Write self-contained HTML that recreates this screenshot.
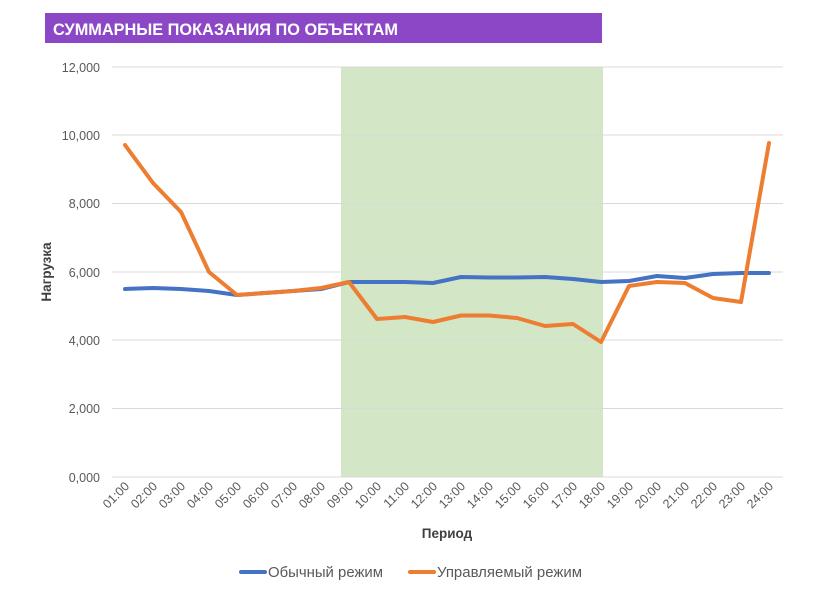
<!DOCTYPE html>
<html><head><meta charset="utf-8"><style>
html,body{margin:0;padding:0;background:#fff;}
svg{display:block;font-family:"Liberation Sans","DejaVu Sans",sans-serif;}
</style></head><body>
<svg width="820" height="593" viewBox="0 0 820 593" xmlns="http://www.w3.org/2000/svg">
<rect x="45" y="13" width="557" height="30" fill="#8B47C6"/>
<text x="53" y="35" font-size="16.5" font-weight="bold" fill="#fff" textLength="345" lengthAdjust="spacingAndGlyphs">СУММАРНЫЕ ПОКАЗАНИЯ ПО ОБЪЕКТАМ</text>
<rect x="341" y="67" width="262" height="410" fill="#D3E6C5"/>
<g stroke="#D9D9D9" stroke-width="1">
<line x1="112" y1="67" x2="783" y2="67"/>
<line x1="112" y1="135" x2="783" y2="135"/>
<line x1="112" y1="203.5" x2="783" y2="203.5"/>
<line x1="112" y1="272" x2="783" y2="272"/>
<line x1="112" y1="340" x2="783" y2="340"/>
<line x1="112" y1="408.5" x2="783" y2="408.5"/>
<line x1="112" y1="477" x2="783" y2="477"/>
</g>
<g font-size="12.5" fill="#595959" text-anchor="end">
<text x="100" y="72">12,000</text>
<text x="100" y="140">10,000</text>
<text x="100" y="208">8,000</text>
<text x="100" y="277">6,000</text>
<text x="100" y="345">4,000</text>
<text x="100" y="413">2,000</text>
<text x="100" y="482">0,000</text>
</g>
<text transform="translate(51,272) rotate(-90)" font-size="13.5" font-weight="bold" fill="#404040" text-anchor="middle">Нагрузка</text>
<g font-size="12.5" fill="#595959" text-anchor="end">
<text transform="translate(130,487) rotate(-45)">01:00</text>
<text transform="translate(158,487) rotate(-45)">02:00</text>
<text transform="translate(186,487) rotate(-45)">03:00</text>
<text transform="translate(214,487) rotate(-45)">04:00</text>
<text transform="translate(242,487) rotate(-45)">05:00</text>
<text transform="translate(270,487) rotate(-45)">06:00</text>
<text transform="translate(298,487) rotate(-45)">07:00</text>
<text transform="translate(326,487) rotate(-45)">08:00</text>
<text transform="translate(354,487) rotate(-45)">09:00</text>
<text transform="translate(382,487) rotate(-45)">10:00</text>
<text transform="translate(410,487) rotate(-45)">11:00</text>
<text transform="translate(438,487) rotate(-45)">12:00</text>
<text transform="translate(466,487) rotate(-45)">13:00</text>
<text transform="translate(494,487) rotate(-45)">14:00</text>
<text transform="translate(522,487) rotate(-45)">15:00</text>
<text transform="translate(550,487) rotate(-45)">16:00</text>
<text transform="translate(578,487) rotate(-45)">17:00</text>
<text transform="translate(606,487) rotate(-45)">18:00</text>
<text transform="translate(634,487) rotate(-45)">19:00</text>
<text transform="translate(662,487) rotate(-45)">20:00</text>
<text transform="translate(690,487) rotate(-45)">21:00</text>
<text transform="translate(718,487) rotate(-45)">22:00</text>
<text transform="translate(746,487) rotate(-45)">23:00</text>
<text transform="translate(774,487) rotate(-45)">24:00</text>
</g>
<text x="447" y="538" font-size="13.5" font-weight="bold" fill="#404040" text-anchor="middle">Период</text>
<polyline fill="none" stroke="#4472C4" stroke-width="4" stroke-linejoin="round" stroke-linecap="round"
points="125,289 153,288 181,289 209,291 237,295 265,293 293,291 321,289 349,282 377,282 405,282 433,283 461,277 489,277.5 517,277.5 545,277 573,279 601,282 629,281 657,276 685,278 713,274 741,273 769,273"/>
<polyline fill="none" stroke="#ED7D31" stroke-width="4" stroke-linejoin="round" stroke-linecap="round"
points="125,145 153,183 181,212 209,272 237,295 265,293 293,291 321,288 349,282 377,319 405,317 433,322 461,315.5 489,315.5 517,318 545,326 573,324 601,342 629,286 657,282 685,283 713,298 741,302 769,143"/>
<line x1="241" y1="572" x2="265" y2="572" stroke="#4472C4" stroke-width="4" stroke-linecap="round"/>
<text x="268" y="577" font-size="14.5" fill="#595959" textLength="115" lengthAdjust="spacingAndGlyphs">Обычный режим</text>
<line x1="410" y1="572" x2="434" y2="572" stroke="#ED7D31" stroke-width="4" stroke-linecap="round"/>
<text x="437" y="577" font-size="14.5" fill="#595959" textLength="145" lengthAdjust="spacingAndGlyphs">Управляемый режим</text>
</svg>
</body></html>
